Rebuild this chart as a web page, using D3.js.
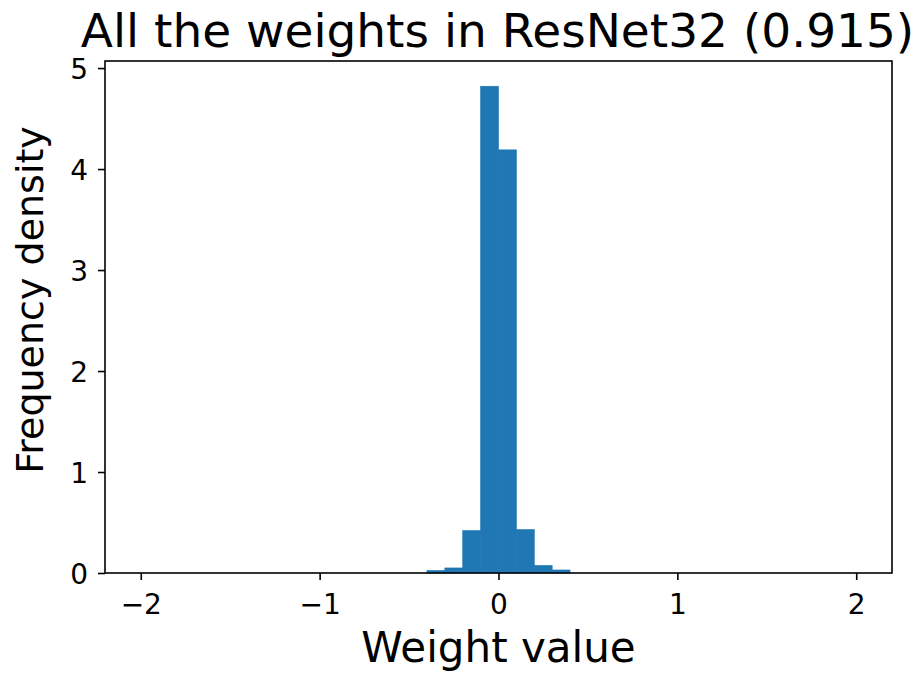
<!DOCTYPE html>
<html>
<head>
<meta charset="utf-8">
<script src="https://cdn.jsdelivr.net/npm/d3@7"></script>
<style>
  html, body { margin: 0; padding: 0; background: #fff; }
  svg { display: block; }
  text { font-family: "DejaVu Sans", sans-serif; fill: #000; }
</style>
</head>
<body>
<svg id="chart" width="917" height="677"></svg>
<script>
// Histogram data (bin width 0.1)
const binStart = [-0.4, -0.3, -0.2, -0.1, 0.0, 0.1, 0.2, 0.3];
const binEnd   = [-0.3, -0.2, -0.1,  0.0, 0.1, 0.2, 0.3, 0.4];
const density  = [0.025, 0.05, 0.42, 4.82, 4.19, 0.43, 0.075, 0.03];
const xTicks = [-2, -1, 0, 1, 2];
const yTicks = [0, 1, 2, 3, 4, 5];
const xDomain = [-2.2, 2.2];
const yDomain = [0, 5.07];
const titleText = "All the weights in ResNet32 (0.915)";
const xLabelText = "Weight value";
const yLabelText = "Frequency density";

const svg = d3.select("#chart");
const m = { left: 105, right: 892, top: 61, bottom: 573 };

const x = d3.scaleLinear().domain(xDomain).range([m.left, m.right]);
const y = d3.scaleLinear().domain(yDomain).range([m.bottom, m.top]);

// bars
svg.append("g").selectAll("rect")
  .data(density)
  .join("rect")
  .attr("x", (d, i) => x(binStart[i]))
  .attr("width", (d, i) => x(binEnd[i]) - x(binStart[i]))
  .attr("y", d => y(d))
  .attr("height", d => y(0) - y(d))
  .attr("fill", "#1f77b4")
  .attr("stroke", "#1f77b4")
  .attr("stroke-width", 0.6);

// axes
const fmt = d => d < 0 ? "\u2212" + Math.abs(d) : String(d);
const xAxis = d3.axisBottom(x).tickValues(xTicks).tickFormat(fmt).tickSize(7).tickPadding(6);
const yAxis = d3.axisLeft(y).tickValues(yTicks).tickFormat(fmt).tickSize(7).tickPadding(10);

const gx = svg.append("g").attr("transform", `translate(0,${m.bottom})`).call(xAxis);
const gy = svg.append("g").attr("transform", `translate(${m.left},0)`).call(yAxis);
[gx, gy].forEach(g => {
  g.attr("font-size", null).attr("font-family", null);
  g.select(".domain").remove();
  g.selectAll(".tick line").attr("stroke", "#000").attr("stroke-width", 1.6);
  g.selectAll(".tick text").style("font-size", "28px").style("font-family", "DejaVu Sans").attr("fill", "#000");
});
gx.selectAll(".tick text").attr("y", 21).attr("dy", "0.71em");
gy.selectAll(".tick text").attr("dy", "0.36em");

// spines
svg.append("rect")
  .attr("x", m.left).attr("y", m.top)
  .attr("width", m.right - m.left).attr("height", m.bottom - m.top)
  .attr("fill", "none").attr("stroke", "#000").attr("stroke-width", 1.6);

// title
svg.append("text")
  .attr("x", (m.left + m.right) / 2 - 1).attr("y", 47)
  .attr("text-anchor", "middle").attr("font-size", 47)
  .text(titleText);

// x label
svg.append("text")
  .attr("x", (m.left + m.right) / 2).attr("y", 662)
  .attr("text-anchor", "middle").attr("font-size", 42)
  .text(xLabelText);

// y label
svg.append("text")
  .attr("transform", `translate(43,300) rotate(-90)`)
  .attr("text-anchor", "middle").attr("font-size", 38)
  .text(yLabelText);
</script>
</body>
</html>
